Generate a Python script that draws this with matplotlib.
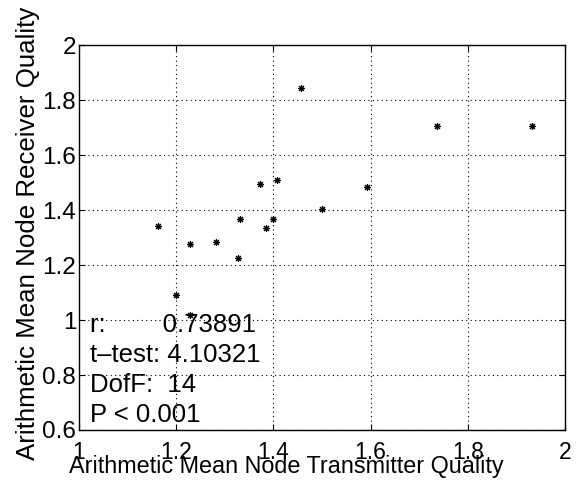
import matplotlib
matplotlib.use("Agg")
import matplotlib.pyplot as plt

# transmitter quality (x) vs receiver quality (y), one point per node
tx_quality = [1.162, 1.228, 1.199, 1.228, 1.282, 1.328, 1.332, 1.373,
              1.385, 1.400, 1.407, 1.456, 1.500, 1.593, 1.736, 1.932]
rx_quality = [1.343, 1.275, 1.091, 1.018, 1.285, 1.227, 1.367, 1.493,
              1.333, 1.367, 1.508, 1.845, 1.404, 1.482, 1.705, 1.705]

x_ticks = [1, 1.2, 1.4, 1.6, 1.8, 2]
x_tick_labels = ["1", "1.2", "1.4", "1.6", "1.8", "2"]
y_ticks = [0.6, 0.8, 1, 1.2, 1.4, 1.6, 1.8, 2]
y_tick_labels = ["0.6", "0.8", "1", "1.2", "1.4", "1.6", "1.8", "2"]

stats_lines = ["r:        0.73891", "t\u2013test: 4.10321", "DofF:  14", "P < 0.001"]

plt.rcParams['font.family'] = ['Liberation Sans', 'DejaVu Sans']

fig = plt.figure(figsize=(5.83, 4.84), dpi=100)
ax = fig.add_axes([79 / 583, 1 - 430 / 484, 486 / 583, 385 / 484])

ax.plot(tx_quality, rx_quality, linestyle='none', marker=(8, 2, 0),
        markersize=5, markeredgewidth=0.8, color='black')

ax.set_xlim(1, 2)
ax.set_ylim(0.6, 2)
ax.set_xticks(x_ticks)
ax.set_xticklabels(x_tick_labels)
ax.set_yticks(y_ticks)
ax.set_yticklabels(y_tick_labels)
ax.tick_params(direction='in', length=4, width=0.8, top=True, right=True,
               colors='black')
ax.tick_params(axis='x', pad=8, labelsize=16.5)
ax.tick_params(axis='y', pad=2, labelsize=17.5)
ax.grid(True, color='black', linestyle=(0, (1, 3)), linewidth=0.8)
for sp in ax.spines.values():
    sp.set_linewidth(1.0)

ax.set_xlabel("Arithmetic Mean Node Transmitter Quality", fontsize=16.8)
ax.xaxis.set_label_coords(0.426, -0.066)
ax.set_ylabel("Arithmetic Mean Node Receiver Quality", fontsize=18.6)
ax.yaxis.set_label_coords(-0.08, 0.51)

# stats block in the lower left corner
for i, line in enumerate(stats_lines):
    ax.text(0.023, 0.2545 - i * 30 / 385, line, transform=ax.transAxes,
            fontsize=18.5, va='baseline', ha='left')

fig.savefig("out.png", dpi=100)
